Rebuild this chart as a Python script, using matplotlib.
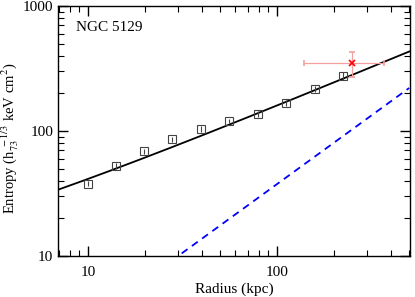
import numpy as np
from matplotlib import pyplot as plt

plt.rcParams['font.family'] = ['Liberation Serif', 'DejaVu Serif']
plt.rcParams['mathtext.fontset'] = 'stix'

radius = [10, 14.1, 19.8, 28, 39.6, 55.7, 79, 111, 159, 223]
entropy = [38, 52.5, 69, 86, 104, 120, 137, 168, 217, 276]
entropy_err = [2, 2.5, 3, 4, 5, 5, 7, 9, 12, 20]

red_r = [249]
red_k = [350]
red_rerr = [[110], [119]]
red_kerr = [[80], [78]]

# fit: K = K0 + K100 (r/100)^alpha ; baseline K = Kb (r/rb)^1.1
K0, K100, alpha = 5, 155, 0.63
Kb, rb, beta = 10, 30, 1.1

fig = plt.figure(figsize=(4.15, 2.97), dpi=100)
ax = fig.add_axes([58 / 415, 41 / 297, 352 / 415, 250 / 297])

r = np.logspace(np.log10(7), np.log10(500), 200)
ax.plot(r, K0 + K100 * (r / 100) ** alpha, color='black', lw=1.3)
ax.plot(r, Kb * (r / rb) ** beta, color='blue', lw=1.3, ls=(0, (4, 3)))

ax.errorbar(radius, entropy, yerr=entropy_err, fmt='s', mfc='none', mec='#444444',
            ecolor='#444444', ms=6, mew=0.8, elinewidth=0.8, capsize=0)
ax.errorbar(red_r, red_k, xerr=red_rerr, yerr=red_kerr, fmt='x', color='#ff0000',
            ecolor='#f4a0a0', ms=5, mew=1.2, elinewidth=0.9, capsize=2.5)

ax.set_xscale('log')
ax.set_yscale('log')
ax.set_xlim(6.95, 505)
ax.set_ylim(10, 1000)
ax.set_xticks([10, 100])
ax.set_xticklabels(['10', '100'])
ax.set_yticks([10, 100, 1000])
ax.set_yticklabels(['10', '100', '1000'])
ax.tick_params(which='both', direction='in', top=True, right=True, labelsize=11)
ax.tick_params(axis='x', which='major', pad=7)
ax.tick_params(which='major', length=7, width=1)
ax.tick_params(which='minor', length=4, width=0.8)
for s in ax.spines.values():
    s.set_linewidth(1)

ax.set_xlabel('Radius (kpc)', fontsize=11, labelpad=3)
ax.set_ylabel(r'Entropy (h$_{73}^{\ -1/3}$ keV cm$^2$)', fontsize=10.5, labelpad=0)
ax.yaxis.set_label_coords(-0.105, 0.47)
ax.text(0.05, 0.9, 'NGC 5129', transform=ax.transAxes, fontsize=11)

fig.savefig('out.png', dpi=100)
